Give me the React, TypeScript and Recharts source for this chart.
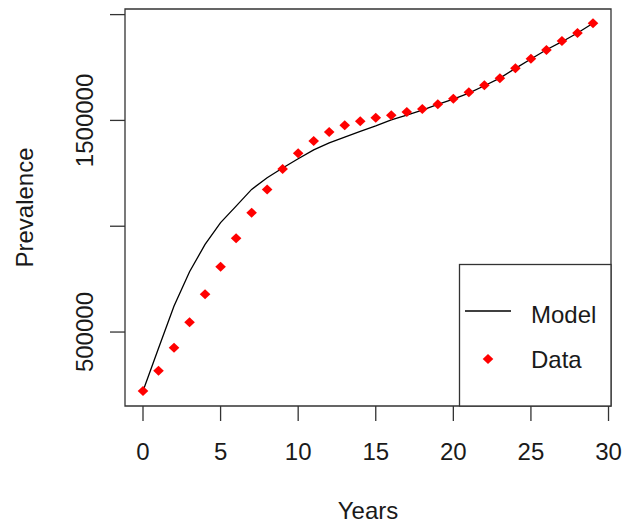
import React from 'react';
import {
  ComposedChart,
  Line,
  Scatter,
  XAxis,
  YAxis,
  ReferenceArea,
  Legend,
} from 'recharts';

// values
const years = [
  0, 1, 2, 3, 4, 5, 6, 7, 8, 9, 10, 11, 12, 13, 14, 15, 16, 17, 18, 19, 20, 21,
  22, 23, 24, 25, 26, 27, 28, 29,
];
const modelValues = [
  221000, 423000, 623000, 785000, 914000, 1017000, 1095000, 1174000, 1229000,
  1275000, 1319000, 1361000, 1394000, 1421000, 1448000, 1474000, 1503000,
  1525000, 1549000, 1576000, 1601000, 1629000, 1664000, 1700000, 1746000,
  1790000, 1834000, 1872000, 1913000, 1959000,
];
const dataValues = [
  221000, 317000, 426000, 546000, 678000, 809000, 943000, 1064000, 1174000,
  1270000, 1345000, 1403000, 1445000, 1477000, 1496000, 1513000, 1525000,
  1540000, 1554000, 1576000, 1602000, 1633000, 1666000, 1699000, 1746000,
  1791000, 1833000, 1875000, 1913000, 1959000,
];
const xTicks = [0, 5, 10, 15, 20, 25, 30];
const yTicks = [500000, 1000000, 1500000, 2000000];
// R drops the labels that would overlap
const yTickLabels = ['500000', '', '1500000', ''];
const legendLabels = ['Model', 'Data'];

const xDomain = [-1.16, 30.16];
const yDomain = [150500, 2026500];

const FONT = '"Liberation Sans", Arial, sans-serif';
const TEXT = '#1a1a1a';
const AXIS = '#333';

const rows = years.map((t, i) => ({
  t,
  model: modelValues[i],
  data: dataValues[i],
}));

const Diamond = ({ cx, cy, r = 5, fill = '#ff0000' }: any) => (
  <polygon
    points={`${cx},${cy - r} ${cx + r + 0.3},${cy} ${cx},${cy + r} ${cx - r - 0.3},${cy}`}
    fill={fill}
  />
);

const XTick = ({ x, y, payload }: any) => (
  <text
    x={x}
    y={y}
    dy={37}
    textAnchor="middle"
    fontSize={24}
    fontFamily={FONT}
    fill={TEXT}
  >
    {payload.value}
  </text>
);

const YTick = ({ x, y, payload }: any) => {
  const idx = yTicks.indexOf(payload.value);
  const label = idx >= 0 ? yTickLabels[idx] : '';
  if (!label) return null;
  const bx = x - 15;
  return (
    <text
      x={bx}
      y={y}
      transform={`rotate(-90, ${bx}, ${y})`}
      textAnchor="middle"
      fontSize={24}
      fontFamily={FONT}
      fill={TEXT}
    >
      {label}
    </text>
  );
};

const YTitle = ({ viewBox }: any) => {
  const cx = 33;
  const cy = viewBox ? viewBox.y + viewBox.height / 2 : 207.5;
  return (
    <text
      x={cx}
      y={cy}
      transform={`rotate(-90, ${cx}, ${cy})`}
      textAnchor="middle"
      fontSize={24}
      fontFamily={FONT}
      fill={TEXT}
    >
      Prevalence
    </text>
  );
};

const renderLegend = () => (
  <svg
    width={153}
    height={143}
    style={{ position: 'absolute', left: 0, top: 0, overflow: 'visible' }}
  >
    <rect
      x={0.5}
      y={0.5}
      width={151.5}
      height={141.5}
      fill="#fff"
      stroke={AXIS}
      strokeWidth={1.3}
    />
    <line x1={6} x2={52} y1={47} y2={47} stroke="#000" strokeWidth={1.3} />
    <text x={72} y={59} fontSize={24} fontFamily={FONT} fill={TEXT}>
      {legendLabels[0]}
    </text>
    <Diamond cx={29} cy={95} />
    <text x={72} y={104} fontSize={24} fontFamily={FONT} fill={TEXT}>
      {legendLabels[1]}
    </text>
  </svg>
);

export default function App() {
  return (
    <div
      style={{
        position: 'absolute',
        left: 0,
        top: 0,
        width: 624,
        height: 526,
        background: '#fff',
      }}
    >
      <ComposedChart
        width={624}
        height={526}
        data={rows}
        margin={{ top: 9, right: 13, bottom: 0, left: 0 }}
      >
        <XAxis
          dataKey="t"
          type="number"
          domain={xDomain}
          ticks={xTicks}
          interval={0}
          allowDataOverflow
          height={120}
          tickSize={15}
          tickLine={{ stroke: AXIS, strokeWidth: 1.3 }}
          axisLine={false}
          tick={<XTick />}
          label={{
            value: 'Years',
            position: 'insideBottom',
            offset: 7,
            fontSize: 24,
            fontFamily: FONT,
            fill: TEXT,
          }}
        />
        <YAxis
          type="number"
          domain={yDomain}
          ticks={yTicks}
          interval={0}
          allowDataOverflow
          width={125}
          tickSize={15}
          tickLine={{ stroke: AXIS, strokeWidth: 1.3 }}
          axisLine={false}
          tick={<YTick />}
          label={<YTitle />}
        />
        <ReferenceArea
          x1={xDomain[0]}
          x2={xDomain[1]}
          y1={yDomain[0]}
          y2={yDomain[1]}
          fill="none"
          stroke={AXIS}
          strokeWidth={1.3}
          ifOverflow="visible"
        />
        <Line
          dataKey="model"
          type="linear"
          stroke="#000"
          strokeWidth={1.3}
          dot={false}
          isAnimationActive={false}
        />
        <Scatter
          dataKey="data"
          shape={<Diamond />}
          isAnimationActive={false}
        />
        <Legend
          content={renderLegend}
          wrapperStyle={{ left: 459, top: 264, width: 0, height: 0, bottom: 'auto' }}
        />
      </ComposedChart>
    </div>
  );
}
